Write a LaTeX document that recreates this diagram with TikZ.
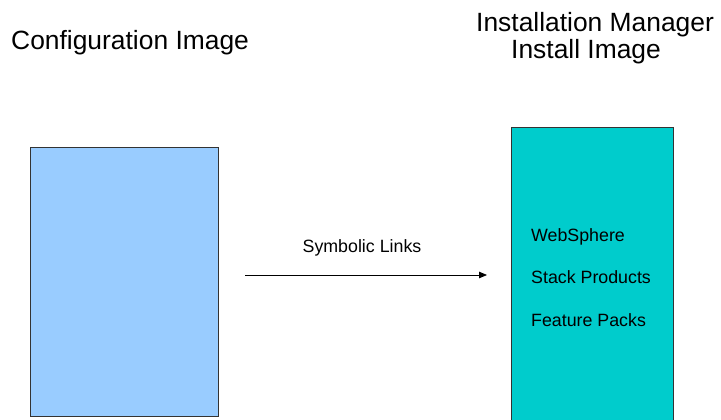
\documentclass[tikz,border=0pt]{standalone}
\usepackage{fontspec}
\setmainfont{Liberation Sans}
\usepackage{tikz}
\usetikzlibrary{arrows.meta}
\definecolor{configblue}{HTML}{99CCFF}
\definecolor{imcyan}{HTML}{00CCCC}
\definecolor{boxline}{HTML}{333333}
\tikzset{
    bigtitle/.style={font=\fontsize{26.4}{30}\selectfont, inner sep=0pt},
    smalltext/.style={font=\fontsize{17.8}{21}\selectfont, inner sep=0pt},
    imagebox/.style={draw=boxline, line width=0.8pt, inner sep=0pt, anchor=north west}}

\begin{document}
\begin{tikzpicture}[x=1pt, y=-1pt]

            \useasboundingbox (0,0) rectangle (721,420);

            \node[bigtitle, anchor=base west] (configtitle) at (11,49.5) {Configuration Image};
            \node[bigtitle, anchor=base west] (imtitle) at (476,32) {Installation Manager};
            \node[bigtitle, anchor=base west] (installtitle) at (511,59) {Install Image};

            \node[imagebox, fill=configblue, minimum width=188pt, minimum height=269pt] (config) at (30,147) {};
            \node[imagebox, fill=imcyan, minimum width=162pt, minimum height=300pt] (install) at (511,127) {};

            \node[smalltext, anchor=base west] (websphere) at (531,241) {WebSphere};
            \node[smalltext, anchor=base west] (stack) at (531,283.5) {Stack Products};
            \node[smalltext, anchor=base west] (features) at (531,326) {Feature Packs};

            \coordinate (linkstart) at (245,275);
            \coordinate (linkend) at (487,275);
            \draw[line width=0.8pt, -{Triangle[length=8pt, width=6.5pt]}] (linkstart) -- (linkend)
                node[midway, smalltext, anchor=base, yshift=23pt, xshift=-4pt] (links) {Symbolic Links};

        \end{tikzpicture}
\end{document}
